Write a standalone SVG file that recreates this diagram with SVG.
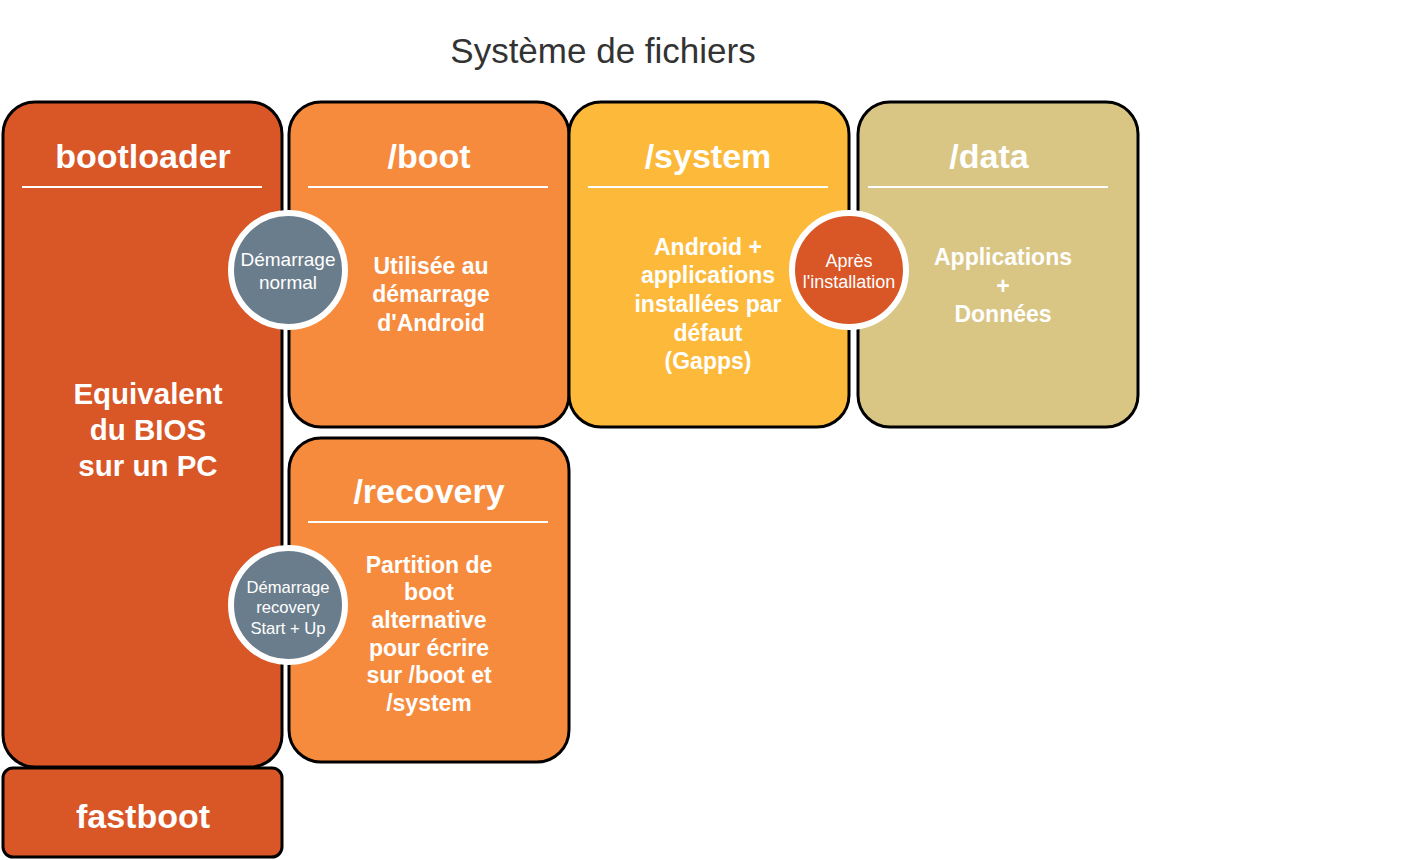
<svg xmlns="http://www.w3.org/2000/svg" width="1409" height="860" viewBox="0 0 1409 860">
<style>
.box{stroke:#000;stroke-width:3}
.hd{font-family:"Liberation Sans",Arial,sans-serif;font-weight:bold;font-size:34px;fill:#fff;text-anchor:middle}
.bd{font-family:"Liberation Sans",Arial,sans-serif;font-weight:bold;font-size:23px;fill:#fff;text-anchor:middle}
.ct{font-family:"Liberation Sans",Arial,sans-serif;font-size:19px;fill:#fff;text-anchor:middle}
.ul{stroke:#fff;stroke-width:2}
.circ{stroke:#fff;stroke-width:6}
</style>
<rect width="1409" height="860" fill="#fff"/>
<text x="603" y="63" font-family="Liberation Sans,Arial,sans-serif" font-size="35" fill="#333" text-anchor="middle">Système de fichiers</text>
<g id="bootloader">
<rect class="box" x="3" y="102" width="279" height="665" rx="32" fill="#d95627"/>
<text class="hd" x="143" y="168">bootloader</text>
<line class="ul" x1="22" y1="187" x2="262" y2="187"/>
<text class="bd" style="font-size:29.5px" x="148" y="404">Equivalent</text>
<text class="bd" style="font-size:29.5px" x="148" y="440">du BIOS</text>
<text class="bd" style="font-size:29.5px" x="148" y="476">sur un PC</text>
</g>
<g id="fastboot">
<rect class="box" x="3" y="768" width="279" height="89" rx="10" fill="#d95627"/>
<text class="hd" x="143" y="828">fastboot</text>
</g>
<g id="boot">
<rect class="box" x="289" y="102" width="280" height="325" rx="32" fill="#f68b3d"/>
<text class="hd" x="429" y="168">/boot</text>
<line class="ul" x1="308" y1="187" x2="548" y2="187"/>
<text class="bd" x="431" y="274">Utilisée au</text>
<text class="bd" x="431" y="302">démarrage</text>
<text class="bd" x="431" y="331">d'Android</text>
</g>
<g id="system">
<rect class="box" x="569" y="102" width="280" height="325" rx="32" fill="#fdb93a"/>
<text class="hd" x="708" y="168">/system</text>
<line class="ul" x1="588" y1="187" x2="828" y2="187"/>
<text class="bd" x="708" y="255">Android +</text>
<text class="bd" x="708" y="283">applications</text>
<text class="bd" x="708" y="312">installées par</text>
<text class="bd" x="708" y="341">défaut</text>
<text class="bd" x="708" y="369">(Gapps)</text>
</g>
<g id="data">
<rect class="box" x="858" y="102" width="280" height="325" rx="32" fill="#d9c685"/>
<text class="hd" x="989" y="168">/data</text>
<line class="ul" x1="868" y1="187" x2="1108" y2="187"/>
<text class="bd" x="1003" y="265">Applications</text>
<text class="bd" x="1003" y="294">+</text>
<text class="bd" x="1003" y="322">Données</text>
</g>
<g id="recovery">
<rect class="box" x="289" y="438" width="280" height="324" rx="32" fill="#f68b3d"/>
<text class="hd" x="429" y="503">/recovery</text>
<line class="ul" x1="308" y1="522" x2="548" y2="522"/>
<text class="bd" x="429" y="573">Partition de</text>
<text class="bd" x="429" y="600">boot</text>
<text class="bd" x="429" y="628">alternative</text>
<text class="bd" x="429" y="656">pour écrire</text>
<text class="bd" x="429" y="683">sur /boot et</text>
<text class="bd" x="429" y="711">/system</text>
</g>
<g id="demarrage-normal">
<circle class="circ" cx="288" cy="270" r="57" fill="#6a7d8c"/>
<text class="ct" x="288" y="266">Démarrage</text>
<text class="ct" x="288" y="289">normal</text>
</g>
<g id="demarrage-recovery">
<circle class="circ" cx="288" cy="605" r="57" fill="#6a7d8c"/>
<text class="ct" style="font-size:16.6px" x="288" y="593">Démarrage</text>
<text class="ct" style="font-size:16.6px" x="288" y="613">recovery</text>
<text class="ct" style="font-size:16.6px" x="288" y="634">Start + Up</text>
</g>
<g id="apres-installation">
<circle class="circ" cx="849" cy="270" r="57" fill="#d95627"/>
<text class="ct" style="font-size:18px" x="849" y="267">Après</text>
<text class="ct" style="font-size:18px" x="849" y="288">l'installation</text>
</g>
<g id="connectors"></g>
</svg>
